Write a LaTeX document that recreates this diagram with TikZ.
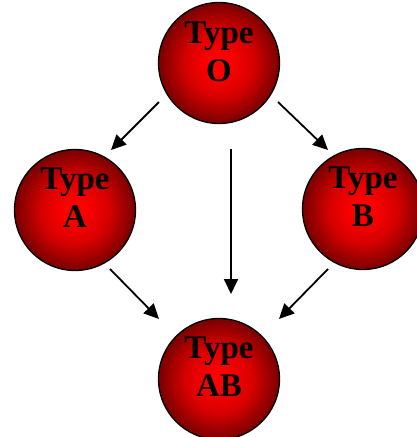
\documentclass[tikz,border=0pt]{standalone}
\usepackage{fontspec}
\setmainfont{Liberation Serif}
\usetikzlibrary{arrows.meta}
\definecolor{bloodlight}{RGB}{255,0,0}
\definecolor{bloodmid}{RGB}{215,0,0}
\definecolor{blooddark}{RGB}{120,0,0}
\pgfdeclareradialshading{bloodball}{\pgfpoint{0bp}{0bp}}{%
  color(0bp)=(bloodlight); color(4bp)=(bloodlight); color(14bp)=(bloodmid);
  color(25bp)=(blooddark); color(50bp)=(blooddark)}
\begin{document}
\begin{tikzpicture}[x=1pt,y=-1pt,
  bloodtype/.style={circle,minimum size=121pt,inner sep=0pt,draw=black,line width=1.3pt,
    shading=bloodball},
  typelabel/.style={font=\bfseries\fontsize{33}{38}\selectfont,align=center,inner sep=0pt},
  flow/.style={line width=1.8pt,-{Triangle[length=15pt,width=14pt]}}]
\useasboundingbox (0,0) rectangle (416,437);
% blood group discs
\node[bloodtype] (O) at (219,63) {};
\node[bloodtype] (A) at (75,210) {};
\node[bloodtype] (B) at (363,209) {};
\node[bloodtype] (AB) at (219,379) {};
% labels, set a little above each disc centre
\node[typelabel] (tO) at (219,52) {Type\\O};
\node[typelabel] (tA) at (75,198) {Type\\A};
\node[typelabel] (tB) at (363,197) {Type\\B};
\node[typelabel] (tAB) at (219,367) {Type\\AB};
% arrow end points
\coordinate (oa1) at (159,102);  \coordinate (oa2) at (111,150);
\coordinate (ob1) at (278,102);  \coordinate (ob2) at (328,150);
\coordinate (oab1) at (231,149); \coordinate (oab2) at (231,294);
\coordinate (aab1) at (110,269); \coordinate (aab2) at (159,319);
\coordinate (bab1) at (328,269); \coordinate (bab2) at (279,319);
\draw[flow] (oa1) -- (oa2);
\draw[flow] (ob1) -- (ob2);
\draw[flow] (oab1) -- (oab2);
\draw[flow] (aab1) -- (aab2);
\draw[flow] (bab1) -- (bab2);
\end{tikzpicture}
\end{document}
